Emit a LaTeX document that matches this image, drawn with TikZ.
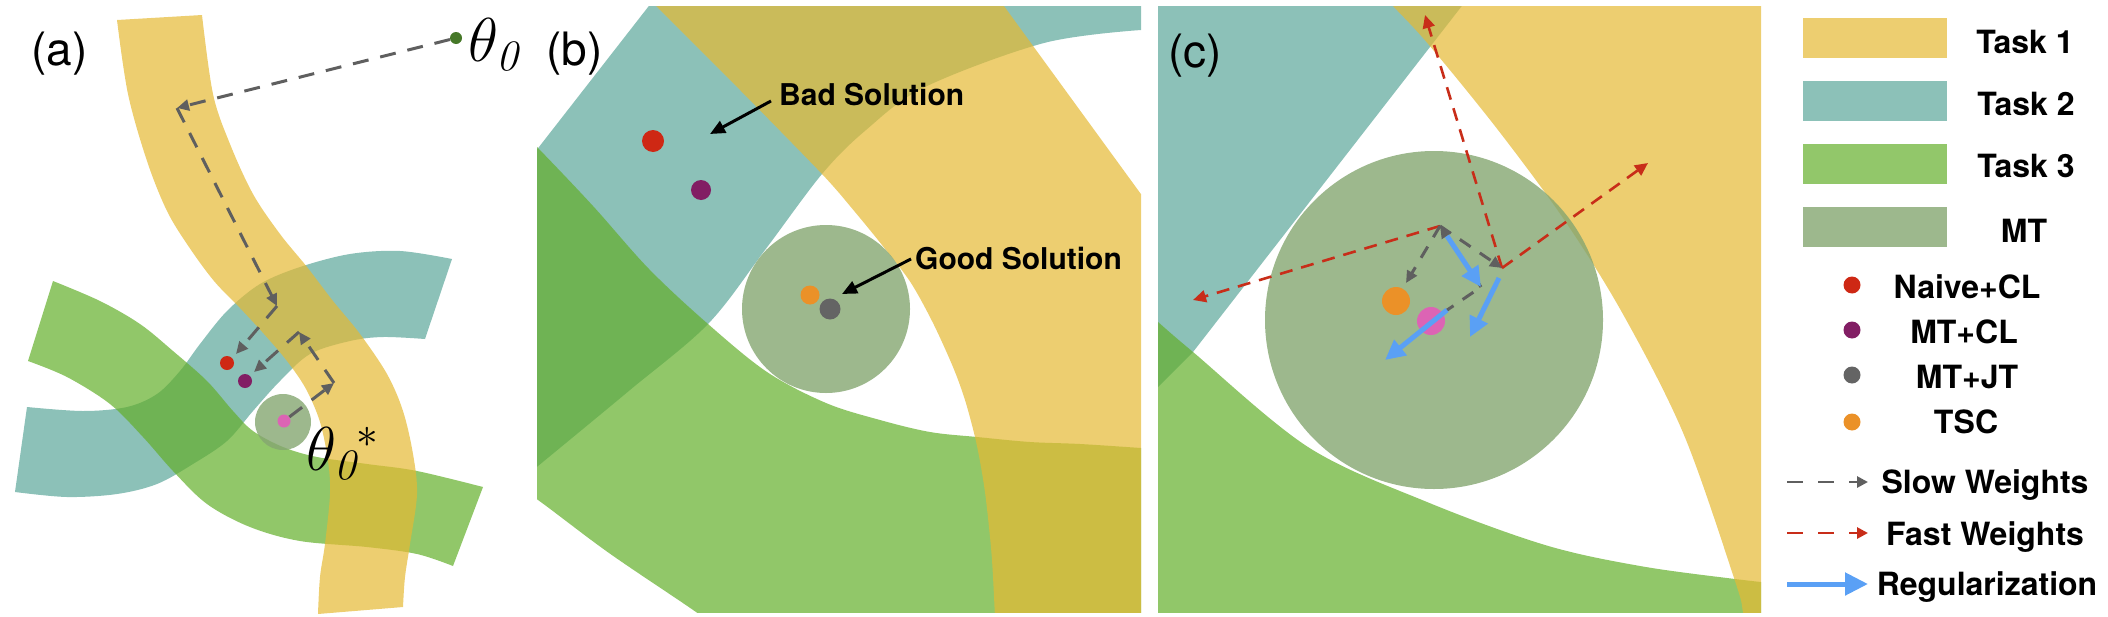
\RequirePackage{fix-cm}
\documentclass[tikz,border=0pt]{standalone}
\usepackage{fontspec}
\setsansfont{TeX Gyre Heros}
\usetikzlibrary{arrows.meta}
\definecolor{yb}{RGB}{229,185,51}
\definecolor{tb}{RGB}{91,166,154}
\definecolor{gb}{RGB}{99,175,42}
\definecolor{mtb}{RGB}{133,166,113}
\definecolor{yw}{RGB}{237,206,112}
\definecolor{tw}{RGB}{140,193,184}
\definecolor{gw}{RGB}{146,199,106}
\definecolor{mtw}{RGB}{157,184,141}
\definecolor{dred}{RGB}{206,40,20}
\definecolor{dpurple}{RGB}{130,30,100}
\definecolor{dgrey}{RGB}{100,100,100}
\definecolor{dorange}{RGB}{235,145,40}
\definecolor{dpink}{RGB}{220,100,180}
\definecolor{dgreen}{RGB}{70,120,40}
\definecolor{fastred}{RGB}{200,45,25}
\definecolor{regblue}{RGB}{90,160,245}
\definecolor{slowgrey}{RGB}{95,95,95}
\newcommand\legfont{\fontsize{32}{32}\selectfont\sffamily\bfseries}
\newcommand\solfont{\fontsize{30}{30}\selectfont\sffamily\bfseries}
\newcommand\panfont{\fontsize{46}{46}\selectfont\sffamily}
\newcommand\thfont{\fontsize{62}{62}\selectfont}
\tikzset{
  bandT/.style={fill=tb, fill opacity=0.7},
  bandG/.style={fill=gb, fill opacity=0.7},
  bandY/.style={fill=yb, fill opacity=0.7},
  mtdisk/.style={fill=mtb, fill opacity=0.8},
  dotn/.style={circle, inner sep=0pt, draw=none},
  slow/.style={draw=slowgrey, line width=3pt, dash pattern=on 16pt off 12pt, -{Triangle[length=12pt,width=11pt]}},
  slowc/.style={draw=slowgrey, line width=3pt, dash pattern=on 13pt off 11pt, -{Triangle[length=12pt,width=11pt]}},
  fast/.style={draw=fastred, line width=2.6pt, dash pattern=on 13pt off 9pt, -{Triangle[length=13pt,width=12pt]}},
  reg/.style={draw=regblue, line width=5pt, -{Triangle[length=20pt,width=19pt]}},
  solarrow/.style={draw=black, line width=3pt, -{Triangle[length=15pt,width=13pt]}},
  legrect/.style={rectangle, minimum width=144pt, minimum height=40pt, inner sep=0pt, draw=none},
  legtext/.style={anchor=base, inner sep=0pt, font=\legfont},
  legdot/.style={circle, inner sep=0pt, minimum size=17pt, draw=none},
  panlbl/.style={anchor=base west, inner sep=0pt, font=\panfont},
}
\begin{document}
\begin{tikzpicture}[x=1pt,y=-1pt,line join=round]
\useasboundingbox (0,0) rectangle (2108,616);

%================ panel (a) ================
\fill[bandT] plot[smooth,tension=0.55] coordinates {(27,407) (83,411) (127,407) (157,394) (180,371) (200,344) (227,311) (260,284) (300,267) (350,254) (400,251) (452,259)}
  -- plot[smooth,tension=0.55] coordinates {(425,339) (383,337) (350,341) (310,354) (280,381) (253,411) (227,441) (193,464) (157,484) (117,494) (67,497) (15,492)} -- cycle;
\fill[bandG] plot[smooth,tension=0.55] coordinates {(53,281) (100,301) (140,324) (173,351) (207,381) (233,411) (253,431) (283,447) (317,457) (367,464) (417,471) (483,487)}
  -- plot[smooth,tension=0.55] coordinates {(453,566) (417,554) (367,547) (300,541) (250,527) (207,504) (173,471) (143,437) (110,404) (67,377) (28,361)} -- cycle;
\fill[bandY] plot[smooth,tension=0.55] coordinates {(117,20) (128,94) (147,161) (167,211) (189,247) (214,281) (240,308) (264,334) (287,361) (306,389) (320,422) (328,461) (330,494) (325,544) (320,577) (318,614)}
  -- plot[smooth,tension=0.55] coordinates {(403,607) (405,577) (410,544) (417,494) (413,454) (403,411) (387,374) (360,334) (333,301) (307,267) (280,234) (253,194) (230,144) (213,94) (202,15)} -- cycle;
\fill[mtdisk] (283,422) circle (28);

\node[panlbl] (lbla) at (31,65) {(a)};
\node[dotn, fill=dgreen, minimum size=12pt] (th0) at (456,38) {};
\node[anchor=base west, inner sep=0pt] (th0lbl) at (468,61) {\thfont$\theta_{\mathit{0}}$};
\node[dotn, fill=dred, minimum size=14pt] (ared) at (227,363) {};
\node[dotn, fill=dpurple, minimum size=14pt] (apur) at (245,381) {};
\node[dotn, fill=dpink, minimum size=13pt] (apink) at (284,421) {};
\node[anchor=base west, inner sep=0pt] (th0s) at (306,470) {\thfont$\theta_{\mathit{0}}{}^{*}$};

\coordinate (aA) at (177,108);
\coordinate (aB) at (277,306);
\coordinate (aC) at (299,332);
\coordinate (aD) at (334,383);
\coordinate (aRt) at (236,354);
\coordinate (aPt) at (254,372);
\draw[slow] (th0) -- (aA);
\draw[slow] (aA) -- (aB);
\draw[slow] (aB) -- (aRt);
\draw[slow] (apink) -- (aD);
\draw[slow] (aD) -- (aC);
\draw[slow] (aC) -- (aPt);

%================ panel (b) ================
\begin{scope}
\clip (537,6) rectangle (1141,612);
\fill[bandT] (500,197) -- (680,-34) -- (1170,-34) -- (1170,27) -- plot[smooth,tension=0.55] coordinates {(1141,30) (1044,43) (925,87) (866,130) (822,174) (765,250) (708,324) (630,390) (538,466) (500,497)} -- cycle;
\fill[bandG] plot[smooth,tension=0.55] coordinates {(500,110) (538,148) (593,206) (649,269) (708,324) (767,372) (826,403) (880,420) (930,432) (977,437) (1030,442) (1080,444) (1141,448) (1170,450)}
  -- (1170,640) -- plot[smooth,tension=0.55] coordinates {(733,640) (696,612) (609,553) (538,500) (500,475)} -- cycle;
\fill[bandY] (640,-10) -- (656,6) -- plot[smooth,tension=0.5] coordinates {(740,90) (822,174) (855,212) (886,250) (911,283) (933,323) (953,367) (965,400) (975,437) (981,467) (986,500) (992,560) (996,640)}
  -- (1170,640) -- (1170,234) -- (985,-20) -- cycle;
\fill[mtdisk] (826,309) circle (84);
\end{scope}
\node[panlbl] (lblb) at (546,65) {(b)};
\node[dotn, fill=dred, minimum size=22pt] (bred) at (653,141) {};
\node[dotn, fill=dpurple, minimum size=20pt] (bpur) at (701,190) {};
\node[dotn, fill=dorange, minimum size=19pt] (bora) at (810,295) {};
\node[dotn, fill=dgrey, minimum size=21pt] (bgry) at (830,309) {};
\node[anchor=base west, inner sep=0pt, font=\solfont] (badtxt) at (779,105) {Bad Solution};
\node[anchor=base west, inner sep=0pt, font=\solfont] (goodtxt) at (915,269) {Good Solution};
\coordinate (bads) at (771,101);
\coordinate (badt) at (710,134);
\coordinate (goods) at (911,259);
\coordinate (goodt) at (842,294);
\draw[solarrow] (bads) -- (badt);
\draw[solarrow] (goods) -- (goodt);

%================ panel (c) ================
\begin{scope}
\clip (1158,6) rectangle (1761,612);
\fill[bandT] (1140,-20) -- (1482,-20) -- (1193,352) -- (1158,387) -- (1140,405) -- cycle;
\fill[bandG] plot[smooth,tension=0.55] coordinates {(1140,306) (1158,322) (1193,352) (1308,447) (1427,502) (1545,545) (1640,566) (1735,579) (1790,585)} -- (1790,640) -- (1140,640) -- cycle;
\fill[bandY] plot[smooth,tension=0.55] coordinates {(1369,-20) (1393,6) (1429,45) (1498,130) (1565,221) (1624,316) (1684,435) (1735,581) (1743,612) (1748,640)} -- (1790,640) -- (1790,-20) -- cycle;
\fill[mtdisk] (1434,320) circle (169);
\end{scope}
\node[panlbl] (lblc) at (1168,67) {(c)};
\node[dotn, fill=dorange, minimum size=28pt] (cora) at (1396,301) {};
\node[dotn, fill=dpink, minimum size=28pt] (cpink) at (1431,321) {};

\coordinate (cTV) at (1440,226);
\coordinate (cRV) at (1502,268);
\coordinate (cP) at (1481,287);
\coordinate (cOt) at (1406,283);
\coordinate (cR1) at (1425,15);
\coordinate (cR2) at (1648,163);
\coordinate (cR3) at (1193,300);
\draw[fast] (cRV) -- (cR1);
\draw[fast] (cRV) -- (cR2);
\draw[fast] (cTV) -- (cR3);
\draw[slowc] (cTV) -- (cOt);
\draw[slowc] (cTV) -- (cRV);
\draw[slowc, -] (cpink) -- (cP);
\draw[slowc] (cP) -- (cTV);
\coordinate (cb1s) at (1447,236);
\coordinate (cb2s) at (1499,278);
\coordinate (cb2e) at (1470,337);
\coordinate (cb3s) at (1447,310);
\coordinate (cb3e) at (1385,360);
\draw[reg] (cb1s) -- (cP);
\draw[reg] (cb2s) -- (cb2e);
\draw[reg] (cb3s) -- (cb3e);

%================ legend ================
\node[legrect, fill=yw] (lt1) at (1875,38) {};
\node[legrect, fill=tw] (lt2) at (1875,101) {};
\node[legrect, fill=gw] (lt3) at (1875,163.5) {};
\node[legrect, fill=mtw] (lmt) at (1875,226.5) {};
\node[legtext] (tt1) at (2025,53) {Task 1};
\node[legtext] (tt2) at (2026,115) {Task 2};
\node[legtext] (tt3) at (2026,177) {Task 3};
\node[legtext] (tmt) at (2024,242) {MT};
\node[legdot, fill=dred] (ld1) at (1852,285) {};
\node[legdot, fill=dpurple] (ld2) at (1852,330) {};
\node[legdot, fill=dgrey] (ld3) at (1852,375) {};
\node[legdot, fill=dorange] (ld4) at (1852,422) {};
\node[legtext] (td1) at (1967,298) {Naive+CL};
\node[legtext] (td2) at (1964,343) {MT+CL};
\node[legtext] (td3) at (1967,388) {MT+JT};
\node[legtext] (td4) at (1966,433) {TSC};
\coordinate (ls1) at (1787,482);
\coordinate (ls2) at (1868,482);
\coordinate (lf1) at (1787,533);
\coordinate (lf2) at (1868,533);
\coordinate (lr1) at (1787,584);
\coordinate (lr2) at (1868,584);
\draw[draw=slowgrey, line width=2.7pt, dash pattern=on 16pt off 15pt, -{Triangle[length=11pt,width=11pt]}] (ls1) -- (ls2);
\draw[draw=fastred, line width=2.7pt, dash pattern=on 16pt off 15pt, -{Triangle[length=11pt,width=11pt]}] (lf1) -- (lf2);
\draw[draw=regblue, line width=5pt, -{Triangle[length=23pt,width=22pt]}] (lr1) -- (lr2);
\node[legtext] (tsw) at (1985,493) {Slow Weights};
\node[legtext] (tfw) at (1985,545) {Fast Weights};
\node[legtext] (trg) at (1987,595) {Regularization};
\end{tikzpicture}
\end{document}
